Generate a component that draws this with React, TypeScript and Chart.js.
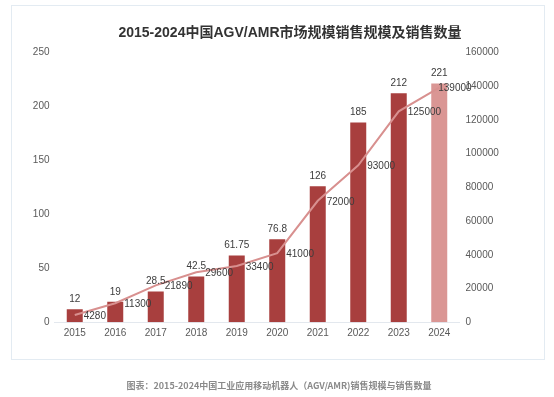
import React, { useEffect, useRef } from "react";
import { Chart, registerables } from "chart.js";

Chart.register(...registerables);

const years = ["2015", "2016", "2017", "2018", "2019", "2020", "2021", "2022", "2023", "2024"];
const marketSize = [12, 19, 28.5, 42.5, 61.75, 76.8, 126, 185, 212, 221];
const salesVolume = [4280, 11300, 21890, 29600, 33400, 41000, 72000, 93000, 125000, 139000];
const leftTicks = [0, 50, 100, 150, 200, 250];
const rightTicks = [0, 20000, 40000, 60000, 80000, 100000, 120000, 140000, 160000];

const titleText = "2015-2024中国AGV/AMR市场规模销售规模及销售数量";
const captionText = "图表：2015-2024中国工业应用移动机器人（AGV/AMR)销售规模与销售数量";

const BAR_DARK = "#a83f3e";
const BAR_LIGHT = "#da9694";
const LINE_COLOR = "#d8908f";
const NUM_FONT = '"Liberation Sans", Arial, sans-serif';

const labelPlugin = {
  id: "valueLabels",
  afterDatasetsDraw(chart: any) {
    const ctx = chart.ctx;
    ctx.save();
    ctx.font = `10px ${NUM_FONT}`;
    ctx.fillStyle = "#3c3c3c";
    const barMeta = chart.getDatasetMeta(1);
    barMeta.data.forEach((el: any, i: number) => {
      ctx.textAlign = "center";
      ctx.textBaseline = "middle";
      ctx.fillText(String(marketSize[i]), el.x, el.y - 10);
    });
    const lineMeta = chart.getDatasetMeta(0);
    lineMeta.data.forEach((el: any, i: number) => {
      ctx.textAlign = "left";
      ctx.textBaseline = "middle";
      const dx = i === lineMeta.data.length - 1 ? -1 : 9;
      ctx.fillText(String(salesVolume[i]), el.x + dx, el.y + 1);
    });
    ctx.restore();
  },
};

export default function App() {
  const canvasRef = useRef<HTMLCanvasElement | null>(null);

  useEffect(() => {
    if (!canvasRef.current) return;
    const chart = new Chart(canvasRef.current, {
      type: "bar",
      data: {
        labels: years,
        datasets: [
          {
            type: "line",
            label: "销售数量",
            data: salesVolume,
            yAxisID: "y1",
            borderColor: LINE_COLOR,
            borderWidth: 2,
            pointRadius: 0,
            tension: 0,
            order: 0,
          } as any,
          {
            type: "bar",
            label: "销售规模",
            data: marketSize,
            yAxisID: "y",
            backgroundColor: marketSize.map((_, i) => (i === marketSize.length - 1 ? BAR_LIGHT : BAR_DARK)),
            categoryPercentage: 1,
            barPercentage: 0.395,
            order: 1,
          },
        ],
      },
      options: {
        responsive: false,
        animation: false,
        layout: { padding: { left: 20, right: 34.5, top: 52.3, bottom: 44.7 } },
        plugins: { legend: { display: false }, tooltip: { enabled: false } },
        scales: {
          x: {
            grid: { display: false, drawTicks: false },
            border: { display: true, color: "#e3e8ee", width: 1 },
            ticks: { color: "#595959", font: { size: 10, family: NUM_FONT }, padding: 5 },
            afterFit: (s: any) => { s.height = 30; },
          },
          y: {
            position: "left",
            min: 0,
            max: 250,
            afterBuildTicks: (s: any) => { s.ticks = leftTicks.map((v) => ({ value: v })); },
            grid: { display: false, drawTicks: false },
            border: { display: false },
            ticks: { color: "#595959", font: { size: 10, family: NUM_FONT }, padding: 5, callback: (v: any) => String(v) },
            afterFit: (s: any) => { s.width = 34.5; },
          },
          y1: {
            position: "right",
            min: 0,
            max: 160000,
            afterBuildTicks: (s: any) => { s.ticks = rightTicks.map((v) => ({ value: v })); },
            grid: { display: false, drawTicks: false },
            border: { display: false },
            ticks: { color: "#595959", font: { size: 10, family: NUM_FONT }, padding: 6, callback: (v: any) => String(v) },
            afterFit: (s: any) => { s.width = 60; },
          },
        },
      },
      plugins: [labelPlugin],
    });
    return () => chart.destroy();
  }, []);

  return (
    <div style={{ position: "absolute", left: 0, top: 0, width: 554, height: 397, background: "#fff", overflow: "hidden" }}>
      <div
        style={{
          position: "absolute",
          left: 11,
          top: 5,
          width: 532,
          height: 353,
          border: "1px solid #e3ebf2",
          boxSizing: "content-box",
        }}
      />
      <canvas ref={canvasRef} width={554} height={397} style={{ position: "absolute", left: 0, top: 0 }} />
      <div
        style={{
          position: "absolute",
          left: 290,
          top: 23,
          transform: "translateX(-50%)",
          fontFamily: '"Liberation Sans", "Noto Sans CJK SC", sans-serif',
          fontWeight: "bold",
          fontSize: 14,
          lineHeight: "18px",
          color: "#333",
          whiteSpace: "nowrap",
        }}
      >
        {titleText}
      </div>
      <div
        style={{
          position: "absolute",
          left: 279,
          top: 379,
          transform: "translateX(-50%)",
          fontFamily: '"Noto Sans CJK SC", sans-serif',
          fontWeight: "bold",
          fontSize: 9,
          lineHeight: "13px",
          color: "#8a8a8a",
          whiteSpace: "nowrap",
        }}
      >
        {captionText}
      </div>
    </div>
  );
}
